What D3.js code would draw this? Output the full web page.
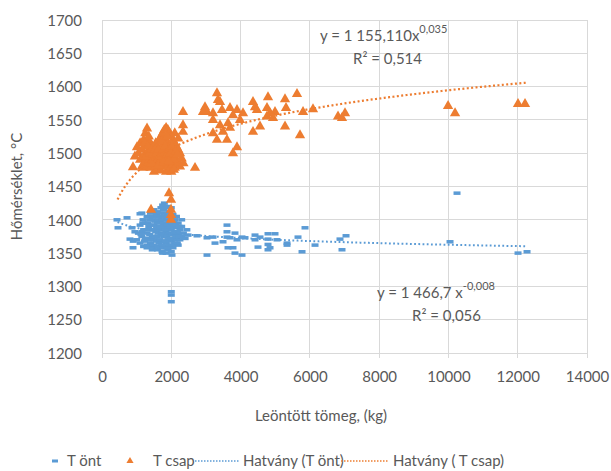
<!DOCTYPE html>
<html><head><meta charset="utf-8">
<script src="https://cdn.jsdelivr.net/npm/d3@7"></script>
<style>
body{margin:0;background:#fff;}
text{font-family:Lato,"Open Sans",sans-serif;fill:#595959;}
</style></head>
<body><svg id="c" width="611" height="471"></svg>
<script>
// ---- data ----
const xTicks = [0,2000,4000,6000,8000,10000,12000,14000];
const yTicks = [1200,1250,1300,1350,1400,1450,1500,1550,1600,1650,1700];
const seriesNames = ["T önt","T csap","Hatvány (T önt)","Hatvány ( T csap)"];
// T csap (orange triangles): [mass kg, temp °C]
const tCsap = [
[895,1479],[1010,1509],[950,1495],[1050,1500],[1100,1490],[1100,1515],[1150,1480],[1150,1505],
[1200,1520],[1200,1495],[1200,1478],[1250,1530],[1250,1510],[1250,1488],[1300,1537],[1300,1520],
[1300,1500],[1300,1480],[1350,1525],[1350,1505],[1350,1490],[1400,1515],[1400,1495],[1400,1478],
[1450,1510],[1450,1490],[1500,1505],[1500,1485],[1500,1472],[1550,1515],[1550,1495],[1550,1480],
[1600,1510],[1600,1490],[1600,1475],[1650,1520],[1650,1500],[1650,1485],[1700,1525],[1700,1505],
[1700,1490],[1700,1474],[1750,1530],[1750,1512],[1750,1495],[1750,1480],[1800,1535],[1800,1518],
[1800,1500],[1800,1484],[1850,1538],[1850,1520],[1850,1505],[1850,1488],[1850,1472],[1900,1535],
[1900,1515],[1900,1497],[1900,1480],[1950,1530],[1950,1510],[1950,1492],[1950,1476],[2000,1525],
[2000,1505],[2000,1488],[2000,1472],[2050,1520],[2050,1500],[2050,1483],[2100,1515],[2100,1495],
[2100,1478],[2150,1510],[2150,1490],[2200,1505],[2200,1485],[2250,1500],[2250,1480],[2300,1492],
[2350,1485],[2200,1522],[2100,1530],[2685,1478],
[1225,1515],[1275,1495],[1325,1510],[1375,1500],[1425,1505],[1425,1485],[1475,1498],[1525,1505],
[1575,1500],[1625,1505],[1675,1495],[1725,1518],[1725,1500],[1775,1505],[1825,1510],[1825,1492],
[1875,1525],[1875,1498],[1925,1505],[1975,1500],[2025,1510],[2075,1490],[2125,1502],[2175,1498],
[1625,1482],[1775,1486],[1925,1488],[2075,1475],
[2338,1562],[2338,1542],[2338,1532],
[1934,1440],[1992,1430],[1415,1415],[1992,1415],[1992,1407],[1992,1400],
[3319,1590],[3348,1580],[3406,1577],[2973,1569],[3031,1562],[2916,1562],[3204,1560],[3464,1565],
[3695,1568],[3897,1565],[3781,1557],[4070,1560],[3984,1550],[3204,1550],[3406,1542],[3637,1545],
[3695,1538],[3493,1532],[3204,1530],[3319,1520],[3608,1520],[3897,1509],[3781,1500],
[4359,1577],[4417,1569],[4474,1565],[4359,1532],[4561,1540],[4792,1584],[4763,1568],[4850,1560],
[4763,1555],[4994,1562],[4936,1553],[5283,1581],[5312,1568],[5283,1540],[5629,1589],[5716,1527],
[5803,1562],[6091,1566],[6813,1555],[6928,1553],[7015,1560],[9989,1571],[10191,1560],
[12009,1574],[12211,1574]
];
// T önt (blue dashes): [mass kg, temp °C]
const tOnt = [
[433,1400],[462,1388],[722,1403],[866,1388],[1097,1409],[1184,1400],[1155,1382],[895,1358],
[1299,1358],[1732,1352],[2021,1347],[2000,1292],[2000,1287],[2000,1277],
[808,1371],[900,1368],[950,1382],[1000,1370],[1050,1380],[1100,1365],[1100,1392],[1150,1375],
[1200,1360],[1200,1385],[1250,1395],[1250,1372],[1300,1405],[1300,1380],[1300,1362],[1350,1390],
[1350,1370],[1400,1410],[1400,1385],[1400,1365],[1450,1400],[1450,1375],[1450,1355],[1500,1415],
[1500,1392],[1500,1370],[1550,1405],[1550,1382],[1550,1360],[1600,1412],[1600,1395],[1600,1375],
[1600,1355],[1650,1405],[1650,1385],[1650,1365],[1700,1418],[1700,1398],[1700,1378],[1700,1358],
[1750,1422],[1750,1405],[1750,1388],[1750,1368],[1750,1350],[1800,1425],[1800,1410],[1800,1392],
[1800,1375],[1800,1360],[1850,1418],[1850,1400],[1850,1382],[1850,1365],[1850,1350],[1900,1420],
[1900,1405],[1900,1388],[1900,1370],[1900,1355],[1950,1412],[1950,1395],[1950,1378],[1950,1360],
[2000,1418],[2000,1400],[2000,1385],[2000,1368],[2000,1352],[2050,1408],[2050,1390],[2050,1372],
[2050,1358],[2100,1400],[2100,1382],[2100,1365],[2150,1405],[2150,1388],[2150,1370],[2200,1395],
[2200,1378],[2200,1362],[2250,1385],[2250,1370],[2300,1390],[2300,1375],[2350,1380],[2400,1372],
[2450,1385],[1150,1410],[2300,1400],
[1125,1378],[1175,1395],[1225,1368],[1275,1385],[1325,1395],[1325,1372],[1375,1400],[1375,1378],
[1375,1360],[1425,1392],[1425,1370],[1475,1405],[1475,1385],[1475,1362],[1525,1398],[1525,1375],
[1575,1408],[1575,1388],[1575,1368],[1625,1400],[1625,1380],[1625,1360],[1675,1410],[1675,1390],
[1675,1370],[1725,1400],[1725,1380],[1725,1362],[1775,1415],[1775,1395],[1775,1378],[1775,1358],
[1825,1405],[1825,1385],[1825,1368],[1875,1410],[1875,1392],[1875,1375],[1875,1358],[1925,1398],
[1925,1380],[1925,1362],[1975,1405],[1975,1390],[1975,1372],[2025,1395],[2025,1378],[2025,1362],
[2075,1398],[2075,1380],[2125,1392],[2125,1375],[2175,1382],[2175,1365],[2225,1390],[2225,1375],
[2483,1377],[2743,1376],[3031,1373],[3204,1374],[3262,1365],[3608,1392],[3608,1382],[3695,1373],
[3637,1358],[3839,1350],[3031,1347],[3839,1380],[4041,1374],[3608,1374],[3493,1367],[3897,1370],
[3781,1358],[4041,1347],[4128,1373],[4417,1377],[4561,1374],[4417,1370],[4503,1359],[4792,1379],
[4994,1379],[4792,1371],[5052,1370],[4792,1363],[4850,1358],[4792,1355],[5341,1365],[5341,1362],
[5658,1374],[5860,1388],[5774,1352],[6149,1362],[6870,1371],[7044,1376],[6928,1355],
[10046,1367],[10248,1440],[12009,1350],[12269,1352]
];
// power trendlines y = a * x^b
const trendCoefOnt = [1466.7, -0.008];
const trendCoefCsap = [1155.11, 0.035];
const trendRange = [450, 12270];
const eqOnt = ["y = 1 466,7 x", "-0,008", "R² = 0,056"];
const eqCsap = ["y = 1 155,110x", "0,035", "R² = 0,514"];

const ORANGE = "#ED7D31", BLUE = "#5B9BD5", GRID = "#d9d9d9";
const svg = d3.select("#c");
const L = 102, R = 587, T = 20, B = 353;
const x = d3.scaleLinear().domain([0,14000]).range([L,R]);
const y = d3.scaleLinear().domain([1200,1700]).range([B,T]);

// grid
svg.append("g").selectAll("line").data(yTicks).join("line")
  .attr("x1",L).attr("x2",R).attr("y1",d=>y(d)).attr("y2",d=>y(d))
  .attr("stroke",GRID).attr("stroke-width",1).attr("shape-rendering","crispEdges");
svg.append("g").selectAll("line").data(xTicks).join("line")
  .attr("x1",d=>x(d)).attr("x2",d=>x(d)).attr("y1",T).attr("y2",B+5)
  .attr("stroke",GRID).attr("stroke-width",1).attr("shape-rendering","crispEdges");

// axes labels
const xAxis = d3.axisBottom(x).tickValues(xTicks).tickSize(0).tickPadding(0).tickFormat(d3.format("d"));
const gx = svg.append("g").attr("transform",`translate(0,${B})`).call(xAxis);
gx.select(".domain").remove();
gx.selectAll("text").attr("y",29).attr("dy",0).style("font-size","15px").attr("fill","#595959");
const yAxis = d3.axisLeft(y).tickValues(yTicks).tickSize(0).tickPadding(0).tickFormat(d3.format("d"));
const gy = svg.append("g").attr("transform",`translate(82,0)`).call(yAxis);
gy.select(".domain").remove();
gy.selectAll("text").attr("x",0).attr("dy","0.35em").style("font-size","15px").attr("fill","#595959");
svg.selectAll(".tick text").attr("font-family",null);

// axis titles
svg.append("text").attr("x",321).attr("y",421).attr("text-anchor","middle")
  .style("font-size","15px").text("Leöntött tömeg, (kg)");
svg.append("text").attr("transform",`translate(22,${(T+B)/2}) rotate(-90)`).attr("text-anchor","middle")
  .style("font-size","15px").text("Hőmérséklet, °C");

// points
const tri = d3.symbol().type(d3.symbolTriangle).size(46);
svg.append("g").selectAll("rect").data(tOnt).join("rect")
  .attr("x",d=>x(d[0])-3.5).attr("y",d=>y(d[1])-1.75).attr("width",7).attr("height",3.5)
  .attr("fill",BLUE);
svg.append("g").selectAll("path").data(tCsap).join("path")
  .attr("d",tri).attr("transform",d=>`translate(${x(d[0])},${y(d[1])})`).attr("fill",ORANGE);

// trendlines
function trend(coef){
  const pts = d3.range(trendRange[0], trendRange[1]+1, 50).map(v=>[v, coef[0]*Math.pow(v,coef[1])]);
  return d3.line().x(d=>x(d[0])).y(d=>y(d[1]))(pts);
}
svg.append("path").attr("d",trend(trendCoefOnt)).attr("fill","none").attr("stroke",BLUE)
  .attr("stroke-width",2).attr("stroke-dasharray","1.8,2.4");
svg.append("path").attr("d",trend(trendCoefCsap)).attr("fill","none").attr("stroke",ORANGE)
  .attr("stroke-width",2.2).attr("stroke-dasharray","2,2.4");

// equations
function eq(x0,y0,parts,rx){
  const t = svg.append("text").attr("x",x0).attr("y",y0).style("font-size","15px");
  t.append("tspan").text(parts[0]);
  t.append("tspan").attr("dy",-8).style("font-size","11px").text(parts[1]);
  svg.append("text").attr("x",rx).attr("y",y0+23).style("font-size","15px").text(parts[2]);
}
eq(320,41,eqCsap,353);
eq(377,298,eqOnt,412);

// legend
const ly = 461;
const lg = svg.append("g");
lg.append("rect").attr("x",52).attr("y",ly-1.5).attr("width",6).attr("height",3).attr("fill",BLUE);
lg.append("text").attr("x",67).attr("y",ly+5).style("font-size","15px").text(seriesNames[0]);
lg.append("path").attr("d",d3.symbol().type(d3.symbolTriangle).size(22)).attr("transform",`translate(130,${ly})`).attr("fill",ORANGE);
lg.append("text").attr("x",153).attr("y",ly+5).style("font-size","15px").text(seriesNames[1]);
lg.append("line").attr("x1",195).attr("x2",240).attr("y1",ly).attr("y2",ly).attr("stroke",BLUE).attr("stroke-width",1.5).attr("stroke-dasharray","1.5,1.5");
lg.append("text").attr("x",243).attr("y",ly+5).style("font-size","15px").text(seriesNames[2]);
lg.append("line").attr("x1",341).attr("x2",388).attr("y1",ly).attr("y2",ly).attr("stroke",ORANGE).attr("stroke-width",1.5).attr("stroke-dasharray","1.5,1.5");
lg.append("text").attr("x",393).attr("y",ly+5).style("font-size","15px").text(seriesNames[3]);
</script></body></html>
